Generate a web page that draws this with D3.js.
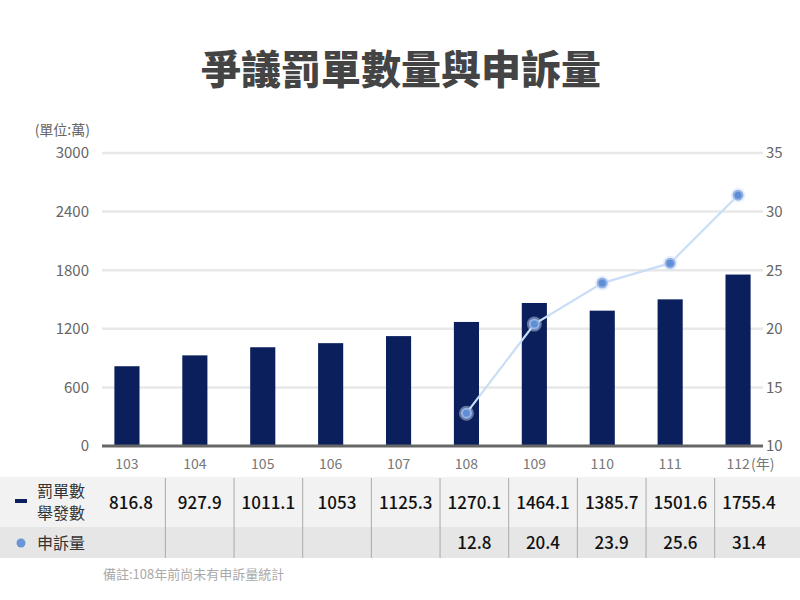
<!DOCTYPE html>
<html><head><meta charset="utf-8">
<script src="https://cdn.jsdelivr.net/npm/d3@7"></script>
<style>body{margin:0;background:#fff}svg{display:block}text{font-family:"Noto Sans CJK TC","Noto Sans",sans-serif}</style>
</head><body><svg id="c" width="800" height="600"></svg>
<script>
const years = ["103","104","105","106","107","108","109","110","111","112"];
const tickets = [816.8,927.9,1011.1,1053,1125.3,1270.1,1464.1,1385.7,1501.6,1755.4];
const complaints = [null,null,null,null,null,12.8,20.4,23.9,25.6,31.4];
const leftTicks = [0,600,1200,1800,2400,3000];
const rightTicks = [10,15,20,25,30,35];

const svg = d3.select("#c");
const x = d3.scaleBand().domain(years).range([93,772]).paddingInner(0.63).paddingOuter(0.315);
const yL = d3.scaleLinear().domain([0,3000]).range([446,153]);
const yR = d3.scaleLinear().domain([10,35]).range([446,153]);

svg.append("text").attr("x",401).attr("y",84).attr("text-anchor","middle")
  .attr("font-size",40).attr("font-weight",900).attr("fill","#444").text("爭議罰單數量與申訴量");

// grid
svg.append("g").selectAll("line").data(leftTicks.slice(1)).join("line")
  .attr("x1",102).attr("x2",763).attr("y1",d=>yL(d)).attr("y2",d=>yL(d))
  .attr("stroke","#e8e8e8").attr("stroke-width",2.5);

// left axis
const gl = svg.append("g").attr("transform","translate(89,0)")
  .call(d3.axisLeft(yL).tickValues(leftTicks).tickFormat(d3.format("d")).tickSize(0).tickPadding(0));
gl.select(".domain").remove();
gl.selectAll("text").attr("font-size",15).attr("fill","#666").attr("font-family","'Noto Sans CJK TC',sans-serif");
svg.append("text").attr("x",90).attr("y",135).attr("text-anchor","end").attr("font-size",14).attr("fill","#666").text("(單位:萬)");

// right axis
const gr = svg.append("g").attr("transform","translate(766,0)")
  .call(d3.axisRight(yR).tickValues(rightTicks).tickFormat(d3.format("d")).tickSize(0).tickPadding(0));
gr.select(".domain").remove();
gr.selectAll("text").attr("font-size",15).attr("fill","#666").attr("font-family","'Noto Sans CJK TC',sans-serif");

// bars
svg.append("g").selectAll("rect").data(tickets).join("rect")
  .attr("x",(d,i)=>x(years[i])).attr("width",x.bandwidth())
  .attr("y",d=>yL(d)).attr("height",d=>yL(0)-yL(d)).attr("fill","#0b1f5c");

// baseline
svg.append("line").attr("x1",102).attr("x2",763).attr("y1",446).attr("y2",446).attr("stroke","#666").attr("stroke-width",3);

// x axis
const gx = svg.append("g").attr("transform","translate(0,456)")
  .call(d3.axisBottom(x).tickSize(0).tickPadding(0));
gx.select(".domain").remove();
gx.selectAll("text").attr("font-size",14).attr("fill","#777").attr("dy","0.9em").attr("font-family","'Noto Sans CJK TC',sans-serif");
svg.append("text").attr("x",x("112")+x.bandwidth()/2+13).attr("y",469).attr("font-size",14).attr("fill","#777").text("(年)");

// line
const pts = complaints.map((v,i)=>({v,i})).filter(d=>d.v!=null);
const cx = d=>x(years[d.i])+x.bandwidth()/2;
svg.append("path").datum(pts).attr("fill","none").attr("stroke","#c9def6").attr("stroke-width",2.2)
  .attr("d",d3.line().x(cx).y(d=>yR(d.v)));
svg.append("g").selectAll("circle").data(pts).join("circle")
  .attr("cx",cx).attr("cy",d=>yR(d.v)).attr("r",5.5)
  .attr("fill","#5f8ed6").attr("stroke","rgba(210,225,248,0.45)").attr("stroke-width",4);

// table
svg.append("rect").attr("x",0).attr("y",477).attr("width",800).attr("height",50).attr("fill","#f2f2f2");
svg.append("rect").attr("x",0).attr("y",527).attr("width",800).attr("height",31).attr("fill","#e6e6e6");
const colX = d3.scaleLinear().domain([0,9]).range([131,749]);
svg.append("g").selectAll("line").data(d3.range(1,10)).join("line")
  .attr("x1",d=>colX(d)-34.3).attr("x2",d=>colX(d)-34.3).attr("y1",478).attr("y2",558)
  .attr("stroke","#aaa").attr("stroke-width",1);
svg.append("g").selectAll("text").data(tickets).join("text")
  .attr("x",(d,i)=>colX(i)).attr("y",509).attr("text-anchor","middle")
  .attr("font-size",17).attr("font-weight",500).attr("fill","#111").text(d=>d);
svg.append("g").selectAll("text").data(complaints).join("text")
  .attr("x",(d,i)=>colX(i)).attr("y",549).attr("text-anchor","middle")
  .attr("font-size",17).attr("font-weight",500).attr("fill","#111").text(d=>d==null?"":d);

// legend labels
svg.append("rect").attr("x",15).attr("y",499).attr("width",12).attr("height",4).attr("fill","#0b1f5c");
svg.append("text").attr("x",37).attr("y",497).attr("font-size",16).attr("fill","#333").text("罰單數");
svg.append("text").attr("x",37).attr("y",519).attr("font-size",16).attr("fill","#333").text("舉發數");
svg.append("circle").attr("cx",21).attr("cy",543).attr("r",4.5).attr("fill","#6a96d8");
svg.append("text").attr("x",37).attr("y",549).attr("font-size",16).attr("fill","#333").text("申訴量");

svg.append("text").attr("x",103).attr("y",579).attr("font-size",13).attr("fill","#aaa").text("備註:108年前尚未有申訴量統計");
</script></body></html>
